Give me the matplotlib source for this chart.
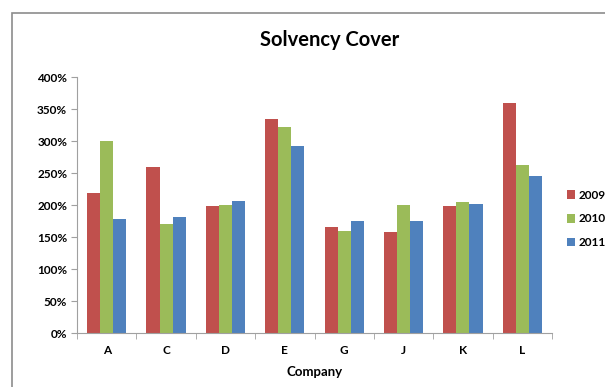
import matplotlib.pyplot as plt
import numpy as np
from matplotlib.patches import Rectangle
from matplotlib.ticker import FuncFormatter, FixedLocator

plt.rcParams['font.family'] = ['Lato', 'DejaVu Sans']

# Data
companies = ["A", "C", "D", "E", "G", "J", "K", "L"]
years = ["2009", "2010", "2011"]
cover_2009 = [218, 260, 199, 334, 165, 158, 198, 359]
cover_2010 = [300, 170, 200, 322, 159, 200, 205, 263]
cover_2011 = [178, 181, 206, 292, 175, 175, 202, 245]
colors = ["#C0504D", "#9BBB59", "#4F81BD"]

fig = plt.figure(figsize=(6.05, 3.87), dpi=100)
ax = fig.add_axes([77 / 605, 54 / 387, 475 / 605, 256 / 387])

# Chart border (Excel style frame)
fig.patches.append(Rectangle((12 / 605, -0.1), 1.0, 1 - 13 / 387 + 0.1,
                             transform=fig.transFigure, fill=False,
                             edgecolor="#8c8c8c", linewidth=1.2))

x = np.arange(len(companies))
w = 0.22
series = [cover_2009, cover_2010, cover_2011]
for i, (vals, c, yr) in enumerate(zip(series, colors, years)):
    ax.bar(x + (i - 1) * w, vals, width=w, color=c, label=yr, zorder=2)

ax.set_xlim(-0.5, len(companies) - 0.5)
ax.set_ylim(0, 400)
ax.set_yticks(range(0, 401, 50))
ax.yaxis.set_major_formatter(FuncFormatter(lambda v, p: f"{int(v)}%"))
ax.set_xticks(x)
ax.set_xticklabels(companies)
ax.xaxis.set_minor_locator(FixedLocator(np.arange(-0.5, len(companies), 1.0)))
ax.tick_params(axis="x", which="major", length=0, pad=9)
ax.tick_params(axis="x", which="minor", length=4, color="#a0a0a0", direction="out")
ax.tick_params(axis="y", length=4, color="#a0a0a0", direction="out", pad=3)

for lab in ax.get_xticklabels() + ax.get_yticklabels():
    lab.set_fontsize(8.5)
    lab.set_fontweight("bold")

for side in ["top", "right"]:
    ax.spines[side].set_visible(False)
for side in ["left", "bottom"]:
    ax.spines[side].set_color("#a0a0a0")

ax.set_xlabel("Company", fontsize=9.5, fontweight="bold", labelpad=7)
fig.text(330 / 605, 1 - 40 / 387, "Solvency Cover", ha="center", va="center",
         fontsize=14.5, fontweight="bold")

fig.legend(loc="center left", bbox_to_anchor=(562 / 605, 1 - 219 / 387),
           frameon=False, prop={"weight": "bold", "size": 8.5},
           handlelength=0.7, handleheight=0.7, handletextpad=0.3,
           labelspacing=1.1, borderaxespad=0)

fig.savefig("out.png", dpi=100)
